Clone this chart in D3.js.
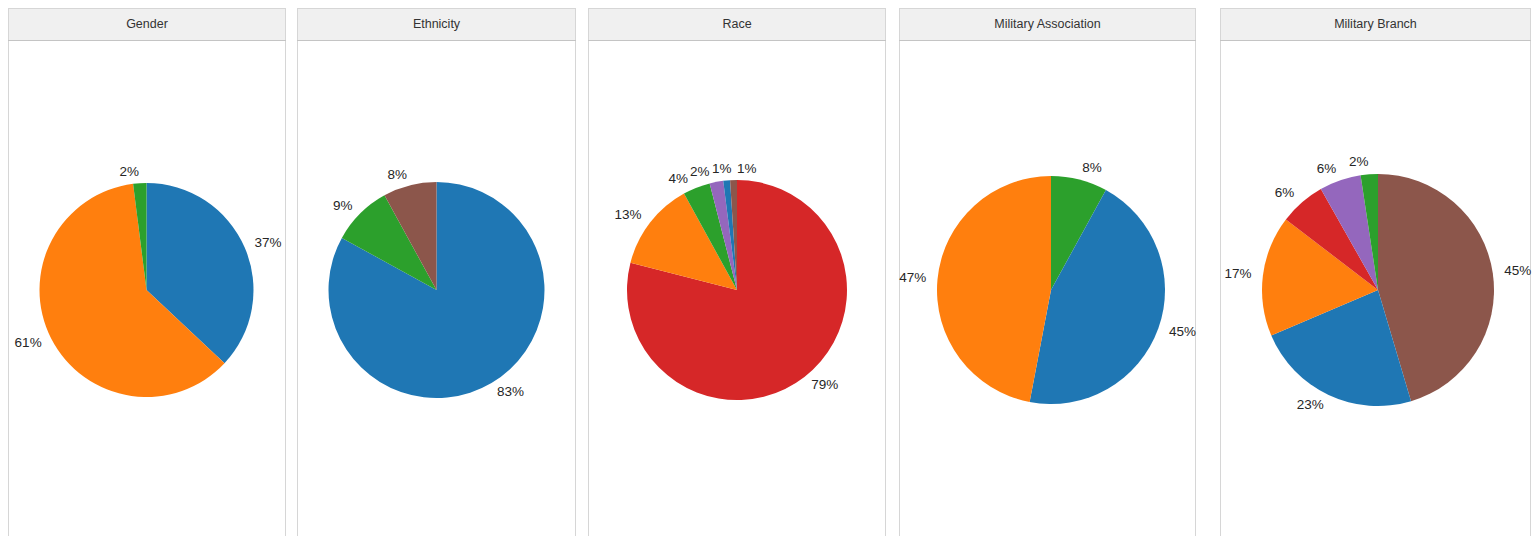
<!DOCTYPE html>
<html>
<head>
<meta charset="utf-8">
<script src="https://cdn.jsdelivr.net/npm/d3@7"></script>
<style>
  html, body { margin: 0; padding: 0; background: #ffffff; }
  svg { display: block; }
</style>
</head>
<body>
<svg id="chart" width="1533" height="536"></svg>
<script>
// ---- data ----
const panelTitles = ["Gender", "Ethnicity", "Race", "Military Association", "Military Branch"];

const genderValues = [37, 61, 2];
const genderColorIdx = [0, 1, 2];

const ethnicityValues = [83, 9, 8];
const ethnicityColorIdx = [0, 2, 5];

const raceValues = [79, 13, 4, 2, 1, 1];
const raceColorIdx = [3, 1, 2, 4, 0, 5];

const militaryAssociationValues = [8, 45, 47];
const militaryAssociationColorIdx = [2, 0, 1];

const militaryBranchValues = [45.4, 23.2, 16.8, 6.4, 5.8, 2.4];
const militaryBranchColorIdx = [5, 0, 1, 3, 4, 2];

// ---- layout ----
const panelX0 = [8, 297, 588, 899, 1220];
const panelX1 = [285, 575, 885, 1195, 1530];
const pieCX = [146.5, 436.5, 737, 1051, 1378];
const pieRadius = [107, 108, 110, 114, 116];
const headerTop = 8, headerBottom = 40, pieCY = 290;

const palette = ["#1f77b4", "#ff7f0e", "#2ca02c", "#d62728", "#9467bd", "#8c564b",
                 "#e377c2", "#7f7f7f", "#bcbd22", "#17becf"];

const series = [
  { values: genderValues, colors: genderColorIdx },
  { values: ethnicityValues, colors: ethnicityColorIdx },
  { values: raceValues, colors: raceColorIdx },
  { values: militaryAssociationValues, colors: militaryAssociationColorIdx },
  { values: militaryBranchValues, colors: militaryBranchColorIdx }
];

const svg = d3.select("#chart");
const font = "'Liberation Sans', Arial, Helvetica, sans-serif";
const labelSize = 13.5;

series.forEach((s, i) => {
  const x0 = panelX0[i], x1 = panelX1[i];
  const g = svg.append("g");
  // panel body
  g.append("rect")
    .attr("x", x0 + 0.5).attr("y", headerTop + 0.5)
    .attr("width", x1 - x0).attr("height", 560)
    .attr("fill", "#ffffff").attr("stroke", "#d6d6d6").attr("stroke-width", 1);
  // header strip
  g.append("rect")
    .attr("x", x0 + 0.5).attr("y", headerTop + 0.5)
    .attr("width", x1 - x0).attr("height", headerBottom - headerTop)
    .attr("fill", "#f0f0f0").attr("stroke", "#d6d6d6").attr("stroke-width", 1);
  g.append("line")
    .attr("x1", x0).attr("x2", x1 + 1)
    .attr("y1", headerBottom + 0.5).attr("y2", headerBottom + 0.5)
    .attr("stroke", "#c4c4c4");
  g.append("text")
    .attr("x", (x0 + x1) / 2 + 0.5).attr("y", (headerTop + headerBottom) / 2 + 1)
    .attr("text-anchor", "middle").attr("dominant-baseline", "middle")
    .attr("font-family", font).attr("font-size", 12.5).attr("fill", "#333")
    .text(panelTitles[i]);

  // pie
  const cx = pieCX[i], r = pieRadius[i];
  const total = d3.sum(s.values);
  const pie = d3.pie().sort(null).value(d => d)
    .startAngle(0).endAngle(2 * Math.PI);
  const arcs = pie(s.values);
  const arc = d3.arc().innerRadius(0).outerRadius(r);
  const pg = g.append("g").attr("transform", `translate(${cx},${pieCY})`);
  pg.selectAll("path").data(arcs).enter().append("path")
    .attr("d", arc)
    .attr("fill", (d, k) => palette[s.colors[k]]);

  // labels: outside at 1.1 r, aligned away from the pie, spread apart when they collide
  const ld = 1.1 * r;
  const labels = arcs.map(d => ({
    a: (d.startAngle + d.endAngle) / 2,
    text: Math.round(d.value / total * 100) + "%"
  }));
  const texts = pg.selectAll("text").data(labels).enter().append("text")
    .attr("font-family", font).attr("font-size", labelSize).attr("fill", "#262626")
    .attr("dominant-baseline", "middle")
    .text(d => d.text);
  texts.each(function(d) { d.w = this.getComputedTextLength(); d.h = labelSize; });

  const box = d => {
    const x = Math.sin(d.a) * ld, y = -Math.cos(d.a) * ld;
    const left = x > 0 ? x : x - d.w;
    return { x, y, l: left - 1, r: left + d.w + 1, t: y - d.h / 2, b: y + d.h / 2 };
  };
  const step = 0.004;
  for (let it = 0; it < 600; it++) {
    let moved = false;
    for (let p = 0; p < labels.length; p++) {
      for (let q = p + 1; q < labels.length; q++) {
        const A = box(labels[p]), B = box(labels[q]);
        if (A.l < B.r && B.l < A.r && A.t < B.b && B.t < A.b) {
          const lo = labels[p].a < labels[q].a ? labels[p] : labels[q];
          const hi = lo === labels[p] ? labels[q] : labels[p];
          lo.a -= step; hi.a += step; moved = true;
        }
      }
    }
    if (!moved) break;
  }
  texts.each(function(d) {
    const b = box(d);
    d3.select(this).attr("x", b.x).attr("y", b.y)
      .attr("text-anchor", b.x > 0 ? "start" : "end");
  });
});
</script>
</body>
</html>
